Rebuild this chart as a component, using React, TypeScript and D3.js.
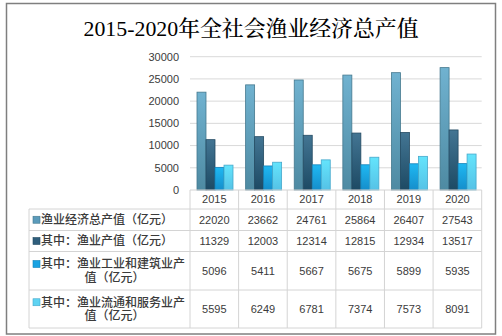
import React from "react";
import * as d3 from "d3";

const years = ["2015", "2016", "2017", "2018", "2019", "2020"];
const seriesNames = [
  "渔业经济总产值（亿元）",
  "其中：渔业产值（亿元）",
  "其中：渔业工业和建筑业产值（亿元）",
  "其中：渔业流通和服务业产值（亿元）",
];
const labelLines = [
  ["渔业经济总产值（亿元）"],
  ["其中：渔业产值（亿元）"],
  ["其中：渔业工业和建筑业产", "值（亿元）"],
  ["其中：渔业流通和服务业产", "值（亿元）"],
];
const total = [22020, 23662, 24761, 25864, 26407, 27543];
const fishery = [11329, 12003, 12314, 12815, 12934, 13517];
const industry = [5096, 5411, 5667, 5675, 5899, 5935];
const service = [5595, 6249, 6781, 7374, 7573, 8091];
const seriesValues = [total, fishery, industry, service];
const yTicks = [0, 5000, 10000, 15000, 20000, 25000, 30000];

const colors = [
  { top: "#70b2d0", bottom: "#4e8aa2", stroke: "#44788e", key: "#5b9bbb" },
  { top: "#437593", bottom: "#1d4a64", stroke: "#234a62", key: "#2f5e7c" },
  { top: "#1fb8f2", bottom: "#158ecb", stroke: "#1382b9", key: "#19a2e2" },
  { top: "#64e4fc", bottom: "#55c2e6", stroke: "#45a8cb", key: "#5fd3f2" },
];

export default function App() {
  const W = 502, H = 336;
  const plotL = 190, plotR = 481.7, plotT = 56.7, plotB = 190;
  const tableL = 29;
  const rowEdges = [190, 209, 230.5, 251.5, 290, 328];

  const x = d3.scaleBand<string>().domain(years).range([plotL, plotR]).padding(0);
  const inner = d3.scaleBand<number>().domain([0, 1, 2, 3]).range([7, 43]).padding(0);
  const y = d3.scaleLinear().domain([0, 30000]).range([plotB, plotT]);

  const textFont = "'Liberation Sans', 'Noto Sans CJK SC', sans-serif";
  const numFont = "'Liberation Sans', Arial, sans-serif";
  const textColor = "#3b3b3b";

  return (
    <svg width={W} height={H} style={{ position: "absolute", left: 0, top: 0 }}>
      <defs>
        {colors.map((c, i) => (
          <linearGradient key={i} id={`g${i}`} x1="0" y1="0" x2="0" y2="1">
            <stop offset="0%" stopColor={c.top} />
            <stop offset="100%" stopColor={c.bottom} />
          </linearGradient>
        ))}
      </defs>
      <rect x={0} y={0} width={W} height={H} fill="#fff" />
      <rect x={6.5} y={3.5} width={489} height={330.5} fill="#fff" stroke="#7f7f7f" strokeWidth={1.5} />

      <text
        x={251}
        y={36}
        textAnchor="middle"
        fontFamily="'Liberation Serif', 'Noto Serif CJK SC', 'Noto Sans CJK SC', serif"
        fontSize={22}
        fontWeight={500}
        fill="#000"
        textLength={335}
        lengthAdjust="spacingAndGlyphs"
      >
        2015-2020年全社会渔业经济总产值
      </text>

      {yTicks.map((t) => (
        <g key={t}>
          {t > 0 && (
            <line x1={plotL} x2={plotR} y1={y(t)} y2={y(t)} stroke="#d9d9d9" strokeWidth={1} />
          )}
          <text
            x={179}
            y={y(t)}
            dy="0.35em"
            textAnchor="end"
            fontFamily={numFont}
            fontSize={11}
            fill={textColor}
          >
            {t}
          </text>
        </g>
      ))}

      {years.map((yr, j) =>
        seriesValues.map((vals, i) => (
          <rect
            key={`${yr}-${i}`}
            x={(x(yr) as number) + (inner(i) as number)}
            y={y(vals[j])}
            width={inner.bandwidth()}
            height={plotB - y(vals[j])}
            fill={`url(#g${i})`}
            stroke={colors[i].stroke}
            strokeWidth={0.8}
          />
        ))
      )}

      <line x1={plotL} x2={plotR} y1={190} y2={190} stroke="#d4d4d4" />
      {rowEdges.slice(1).map((ry) => (
        <line key={ry} x1={tableL} x2={plotR} y1={ry} y2={ry} stroke="#d4d4d4" />
      ))}
      <line x1={tableL} x2={tableL} y1={209} y2={328} stroke="#d4d4d4" />
      {years.map((yr) => (
        <line key={yr} x1={x(yr) as number} x2={x(yr) as number} y1={190} y2={328} stroke="#d4d4d4" />
      ))}
      <line x1={plotR} x2={plotR} y1={190} y2={328} stroke="#d4d4d4" />

      {years.map((yr) => (
        <text
          key={yr}
          x={(x(yr) as number) + x.bandwidth() / 2}
          y={199.5}
          dy="0.35em"
          textAnchor="middle"
          fontFamily={numFont}
          fontSize={11}
          fill={textColor}
        >
          {yr}
        </text>
      ))}

      {seriesNames.map((name, i) => {
        const top = rowEdges[i + 1];
        const bot = rowEdges[i + 2];
        const cy = (top + bot) / 2;
        const lines = labelLines[i];
        const lineH = 13.5;
        const firstY = cy - ((lines.length - 1) * lineH) / 2;
        return (
          <g key={name}>
            <rect
              x={33}
              y={firstY - 3.5}
              width={7}
              height={7}
              fill={colors[i].key}
              stroke={colors[i].stroke}
              strokeWidth={0.6}
            />
            <text
              fontFamily={textFont}
              fontSize={12}
              fontWeight={500}
              fill={textColor}
            >
              {lines.map((ln, k) => (
                <tspan
                  key={k}
                  x={k === 0 ? 41 : 114.5}
                  y={firstY + k * lineH + 4.3}
                  textAnchor={k === 0 ? "start" : "middle"}
                >
                  {ln}
                </tspan>
              ))}
            </text>
            {years.map((yr, j) => (
              <text
                key={yr}
                x={(x(yr) as number) + x.bandwidth() / 2}
                y={cy}
                dy="0.35em"
                textAnchor="middle"
                fontFamily={numFont}
                fontSize={11}
                fill={textColor}
              >
                {seriesValues[i][j]}
              </text>
            ))}
          </g>
        );
      })}
    </svg>
  );
}
